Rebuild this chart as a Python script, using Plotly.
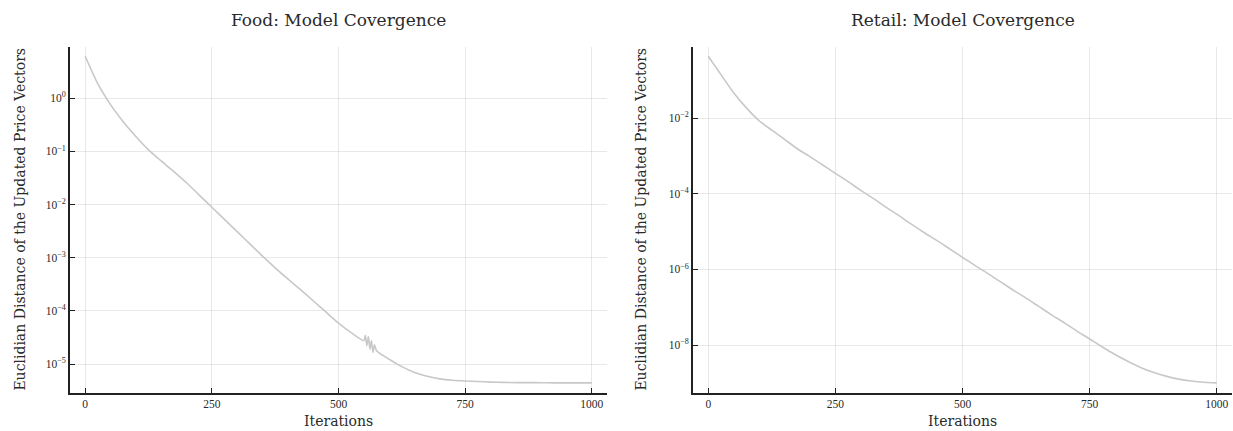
import plotly.graph_objects as go

# Iteration grid shared by both runs
iterations = [0, 25, 50, 75, 100, 125, 150, 175, 200, 225, 250, 275, 300, 325, 350,
              375, 400, 425, 450, 475, 500, 525, 550, 575, 600, 625, 650, 675, 700,
              725, 750, 775, 800, 825, 850, 875, 900, 925, 950, 975, 1000]

# Food: distance between successive price vectors (includes a jittery stretch near 560)
food_iterations = [0, 25, 50, 75, 100, 125, 150, 175, 200, 225, 250, 275, 300, 325, 350,
                   375, 400, 425, 450, 475, 500, 525, 550, 553, 556, 559, 562, 565, 568,
                   571, 575, 600, 625, 650, 675, 700, 725, 750, 775, 800, 825, 850, 875,
                   900, 925, 950, 975, 1000]
food_distance = [6.17, 1.86, 0.759, 0.363, 0.191, 0.107, 0.0661, 0.0417, 0.0257, 0.0151,
                 0.00891, 0.00525, 0.00309, 0.00182, 0.00107, 6.46e-4, 3.98e-4, 2.51e-4,
                 1.55e-4, 9.55e-5, 5.89e-5, 3.89e-5, 2.75e-5, 3.45e-5, 2.20e-5, 3.30e-5,
                 1.90e-5, 2.75e-5, 1.65e-5, 2.30e-5, 1.78e-5, 1.23e-5, 8.91e-6, 6.92e-6,
                 5.89e-6, 5.25e-6, 4.95e-6, 4.79e-6, 4.68e-6, 4.57e-6, 4.52e-6, 4.47e-6,
                 4.47e-6, 4.44e-6, 4.42e-6, 4.42e-6, 4.41e-6, 4.41e-6]

# Retail: distance between successive price vectors
retail_distance = [0.431, 0.141, 0.0468, 0.0186, 0.00851, 0.00479, 0.00275, 0.00155,
                   9.55e-4, 5.75e-4, 3.47e-4, 2.09e-4, 1.23e-4, 7.41e-5, 4.37e-5, 2.63e-5,
                   1.55e-5, 9.33e-6, 5.75e-6, 3.47e-6, 2.09e-6, 1.26e-6, 7.76e-7, 4.68e-7,
                   2.82e-7, 1.74e-7, 1.05e-7, 6.31e-8, 3.89e-8, 2.34e-8, 1.45e-8, 8.91e-9,
                   5.62e-9, 3.72e-9, 2.57e-9, 1.91e-9, 1.51e-9, 1.26e-9, 1.12e-9, 1.04e-9,
                   1.0e-9]

x_ticks = [0, 250, 500, 750, 1000]
food_y_ticks = [1e0, 1e-1, 1e-2, 1e-3, 1e-4, 1e-5]
food_y_labels = ["10<sup>0</sup>", "10<sup>−1</sup>", "10<sup>−2</sup>",
                 "10<sup>−3</sup>", "10<sup>−4</sup>", "10<sup>−5</sup>"]
retail_y_ticks = [1e-2, 1e-4, 1e-6, 1e-8]
retail_y_labels = ["10<sup>−2</sup>", "10<sup>−4</sup>", "10<sup>−6</sup>", "10<sup>−8</sup>"]

titles = ["Food: Model Covergence", "Retail: Model Covergence"]
x_title = "Iterations"
y_title = "Euclidian Distance of the Updated Price Vectors"

FONT = "DejaVu Serif"
TICK_FONT = "Liberation Serif"
LINE_COLOR = "#c8c8c8"
AXIS_COLOR = "#222222"
TEXT_COLOR = "#2a2a2a"
GRID_COLOR = "rgba(0,0,0,0.09)"

W, H = 1233, 431
left_dom = [70 / W, 607 / W]
right_dom = [693 / W, 1232 / W]
y_dom = [(H - 392.7) / H, (H - 46.5) / H]

fig = go.Figure()
fig.add_trace(go.Scatter(x=food_iterations, y=food_distance, mode="lines",
                         line=dict(color=LINE_COLOR, width=1.6, shape="spline",
                                   smoothing=0.6),
                         xaxis="x", yaxis="y", showlegend=False))
fig.add_trace(go.Scatter(x=iterations, y=retail_distance, mode="lines",
                         line=dict(color=LINE_COLOR, width=1.6, shape="spline"),
                         xaxis="x2", yaxis="y2", showlegend=False))

common_x = dict(range=[-30, 1030], tickvals=x_ticks, ticks="inside", ticklen=5,
                tickwidth=1, tickcolor=AXIS_COLOR, showline=True, linecolor=AXIS_COLOR,
                linewidth=1.6, showgrid=True, gridcolor=GRID_COLOR, gridwidth=1,
                zeroline=False, tickfont=dict(family=TICK_FONT, size=11.5, color=TEXT_COLOR))
common_y = dict(type="log", ticks="inside", ticklen=5, tickwidth=1, tickcolor=AXIS_COLOR,
                showline=True, linecolor=AXIS_COLOR, linewidth=1.6, showgrid=True,
                gridcolor=GRID_COLOR, gridwidth=1, zeroline=False,
                tickfont=dict(family=TICK_FONT, size=11.5, color=TEXT_COLOR))

fig.update_layout(
    width=W, height=H,
    margin=dict(l=0, r=0, t=0, b=0),
    paper_bgcolor="white", plot_bgcolor="white",
    xaxis=dict(domain=left_dom, anchor="y", **common_x),
    yaxis=dict(domain=y_dom, anchor="x", range=[-5.54, 0.974],
               tickvals=food_y_ticks, ticktext=food_y_labels, **common_y),
    xaxis2=dict(domain=right_dom, anchor="y2", **common_x),
    yaxis2=dict(domain=y_dom, anchor="x2", range=[-9.259, -0.107],
                tickvals=retail_y_ticks, ticktext=retail_y_labels, **common_y),
)

text_font = dict(family=FONT, color=TEXT_COLOR)
annotations = []
for dom, title, ytx in [(left_dom, titles[0], 20), (right_dom, titles[1], 641)]:
    cx = (dom[0] + dom[1]) / 2
    annotations.append(dict(text=title, x=cx, y=(H - 20) / H, xref="paper", yref="paper",
                            showarrow=False, font=dict(size=17, **text_font),
                            xanchor="center", yanchor="middle"))
    annotations.append(dict(text=x_title, x=cx, y=(H - 421) / H, xref="paper", yref="paper",
                            showarrow=False, font=dict(size=14, **text_font),
                            xanchor="center", yanchor="middle"))
    annotations.append(dict(text=y_title, x=ytx / W, y=(y_dom[0] + y_dom[1]) / 2,
                            xref="paper", yref="paper", showarrow=False, textangle=-90,
                            font=dict(size=14, **text_font),
                            xanchor="center", yanchor="middle"))
fig.update_layout(annotations=annotations)

fig.write_html("out.html")
